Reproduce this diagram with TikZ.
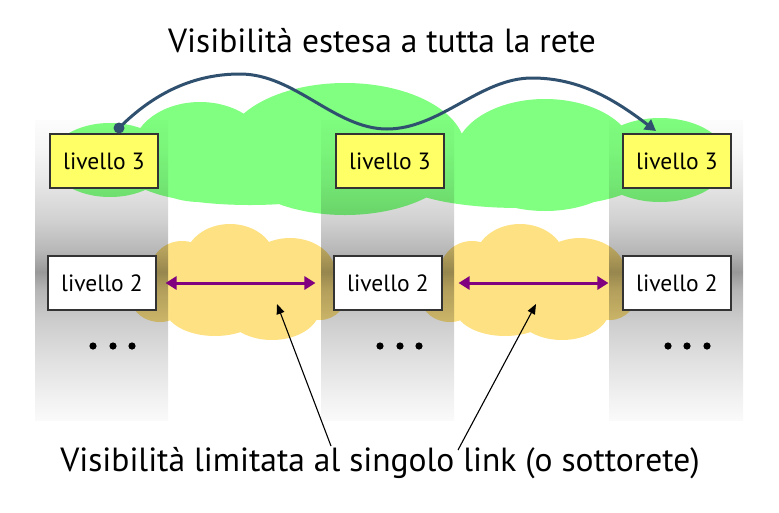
\documentclass[tikz,border=0pt]{standalone}
\usepackage{fontspec}
\setmainfont{PT Sans}
\usetikzlibrary{arrows.meta}
\definecolor{cloudgreen}{HTML}{80FF80}
\definecolor{cloudyellow}{HTML}{FDE182}
\definecolor{boxyellow}{HTML}{FFFF66}
\definecolor{curveblue}{HTML}{2F506E}
\definecolor{linkpurple}{HTML}{800080}
\pgfdeclareverticalshading{colshade}{100bp}{color(0bp)=(white); color(25bp)=(black!2); color(28.3bp)=(black!5); color(35bp)=(black!12); color(41.7bp)=(black!20); color(46.7bp)=(black!29); color(49.7bp)=(black!40); color(53.3bp)=(black!28); color(58.3bp)=(black!18); color(65bp)=(black!9); color(70bp)=(black!4); color(75bp)=(black!1); color(100bp)=(white)}
\tikzset{
  lvthree/.style={draw=black!80, line width=1.1pt, fill=boxyellow, minimum width=108pt, minimum height=54pt, inner sep=0pt, font=\fontsize{23.5}{26}\selectfont},
  lvtwo/.style={lvthree, fill=white},
  column/.style={shading=colshade},
  linkarrow/.style={draw=linkpurple, line width=3pt, {Triangle[length=11pt,width=13pt]}-{Triangle[length=11pt,width=13pt]}},
  netcurve/.style={draw=curveblue, line width=3pt, -{Triangle[length=11pt,width=12pt]}},
  pointer/.style={draw=black, line width=1.1pt, -{Triangle[length=10pt,width=8pt]}},
  dotmark/.style={fill=black},
  bigtext/.style={font=\fontsize{33.5}{36}\selectfont},
}
\begin{document}
\begin{tikzpicture}[x=1pt,y=-1pt]
\useasboundingbox (0,0) rectangle (779,512);
% green cloud (level 3)
\fill[cloudgreen]
  (110,160) ellipse [x radius=60pt, y radius=37pt]
  (200,152) ellipse [x radius=68pt, y radius=50pt]
  (345,149) ellipse [x radius=120pt, y radius=66pt]
  (545,155) ellipse [x radius=90pt, y radius=56pt]
  (660,160) ellipse [x radius=68pt, y radius=42pt]
  (250,175) ellipse [x radius=120pt, y radius=30pt]
  (520,180) ellipse [x radius=120pt, y radius=28pt];
% yellow clouds (level 2)
\foreach \dx in {0,290}{
\begin{scope}[xshift=\dx pt]
\fill[cloudyellow]
  (160,300) ellipse [x radius=28pt, y radius=22pt]
  (182,272) ellipse [x radius=32pt, y radius=31pt]
  (230,260) ellipse [x radius=45pt, y radius=36pt]
  (290,272) ellipse [x radius=45pt, y radius=34pt]
  (320,290) ellipse [x radius=28pt, y radius=30pt]
  (215,308) ellipse [x radius=50pt, y radius=28pt]
  (272,308) ellipse [x radius=48pt, y radius=32pt]
  (240,290) ellipse [x radius=85pt, y radius=40pt];
\end{scope}}
% gray columns (multiplied over the clouds)
\begin{scope}[blend mode=multiply]
\path[column] (35,120) rectangle (168,420);
\path[column] (321,120) rectangle (454,420);
\path[column] (609,120) rectangle (743,420);
\end{scope}
% boxes
\node[lvthree] (l3a) at (104,161) {livello 3};
\node[lvthree] (l3b) at (390,161) {livello 3};
\node[lvthree] (l3c) at (677,161) {livello 3};
\node[lvtwo] (l2a) at (102,283) {livello 2};
\node[lvtwo] (l2b) at (388,283) {livello 2};
\node[lvtwo] (l2c) at (677,283) {livello 2};
% dots
\foreach \x in {93,113,132}{\fill[dotmark] (\x,346) circle (3.6pt);}
\foreach \x in {380,400,419}{\fill[dotmark] (\x,346) circle (3.6pt);}
\foreach \x in {668,687,707}{\fill[dotmark] (\x,346) circle (3.6pt);}
% link arrows
\draw[linkarrow, shorten <=9pt, shorten >=18pt] (l2a.east) -- (l2b.west);
\draw[linkarrow, shorten <=16pt, shorten >=14pt] (l2b.east) -- (l2c.west);
% network-wide curve
\coordinate (cs) at (119,128);
\coordinate (ce) at (656,131);
\fill[curveblue] (cs) circle (5.5pt);
\draw[netcurve] (cs) .. controls (155,92) and (195,74) .. (240,74)
  .. controls (295,74) and (335,129) .. (387,129)
  .. controls (440,129) and (480,78) .. (532,78)
  .. controls (580,78) and (615,100) .. (ce);
% texts
\node[bigtext] (title) at (382,41) {Visibilità estesa a tutta la rete};
\node[bigtext] (bottom) at (380,463) {Visibilità limitata al singolo link (o sottorete)};
% pointers
\coordinate (q1) at (331,446);
\coordinate (q2) at (458,450);
\coordinate (p1) at (277,304);
\coordinate (p2) at (536,304);
\draw[pointer] (q1) -- (p1);
\draw[pointer] (q2) -- (p2);
\end{tikzpicture}
\end{document}
